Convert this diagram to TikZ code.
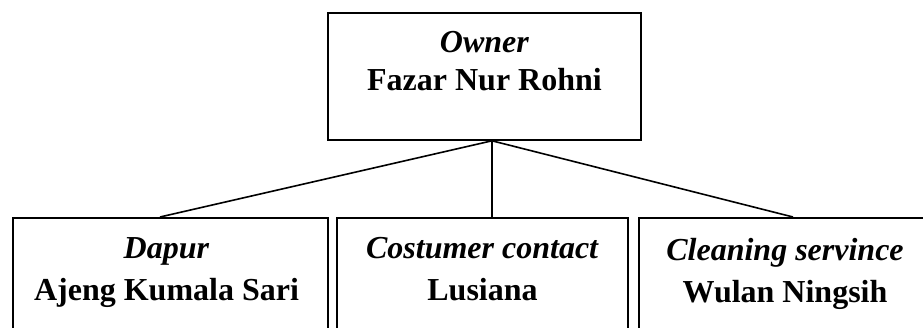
\documentclass[tikz,border=0pt]{standalone}
\usepackage{fontspec}
\setmainfont{Liberation Serif}
\usetikzlibrary{positioning,calc}

\begin{document}
\begin{tikzpicture}[x=1pt,y=1pt,line width=1.6pt,every node/.style={align=center},
  unit/.style={draw,rectangle,inner sep=0pt,minimum height=127pt},
  role/.style={inner sep=0pt,font=\fontsize{32}{#1}\selectfont\bfseries},role/.default=40]
\useasboundingbox (0,0) rectangle (923,327);
\clip (0,0) rectangle (923,327);
\node[unit,minimum width=313pt] (owner) at (484.5,250.5) {};
\node[unit,minimum width=315pt,anchor=north] (dapur) at (170.5,110) {};
\node[unit,minimum width=291pt,anchor=north] (cs) at (482.5,110) {};
\node[unit,minimum width=292pt,anchor=north] (cleaning) at (785,110) {};
% names in the boxes
\node[role=38,below=18.6pt of owner.north] (owner-t) {\textit{Owner}\\Fazar Nur Rohni};
\node[role=42,below=20pt of dapur.north,xshift=-4pt] (dapur-t) {\textit{Dapur}\\Ajeng Kumala Sari};
\node[role=42,below=20pt of cs.north] (cs-t) {\textit{Costumer contact}\\Lusiana};
\node[role=42,below=20pt of cleaning.north] (cleaning-t) {\textit{Cleaning servince}\\Wulan Ningsih};
% lines
\coordinate (hub) at ($(owner.south)+(7.5,0)$);
\draw (hub) -- ($(dapur.north)+(-10.5,0)$);
\draw (hub) -- ($(cs.north)+(9.5,0)$);
\draw (hub) -- ($(cleaning.north)+(8,0)$);
\end{tikzpicture}
\end{document}
